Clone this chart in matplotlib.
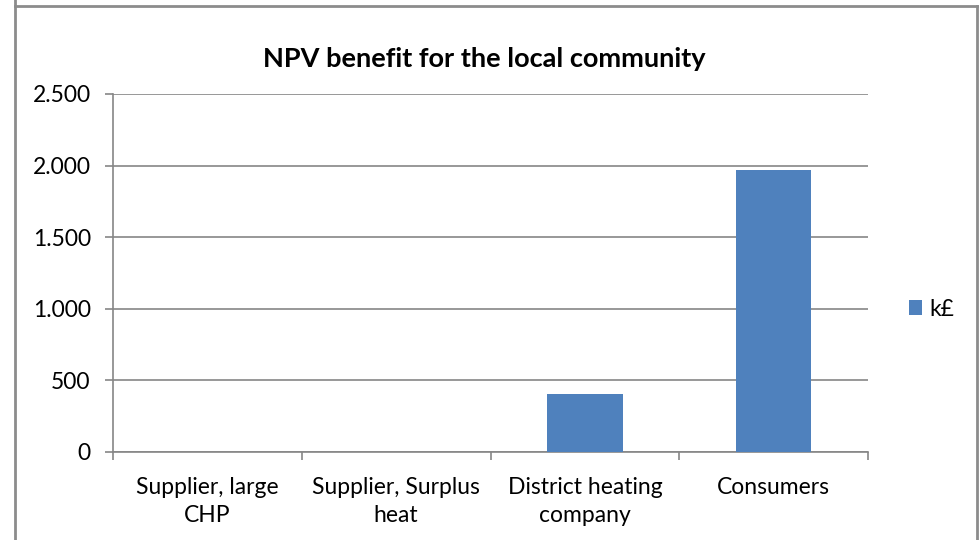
import matplotlib
matplotlib.use("Agg")
import matplotlib.pyplot as plt
from matplotlib.lines import Line2D
import numpy as np

categories = ["Supplier, large\nCHP", "Supplier, Surplus\nheat", "District heating\ncompany", "Consumers"]
values = [0, 0, 405, 1970]
series_name = "k£"
yticks = [0, 500, 1000, 1500, 2000, 2500]
ytick_labels = ["0", "500", "1.000", "1.500", "2.000", "2.500"]

plt.rcParams["font.family"] = ["Lato", "DejaVu Sans"]

bar_color = "#4f81bd"
grid_color = "#868686"
label_size = 16.5

fig = plt.figure(figsize=(9.8, 5.4), dpi=100)
ax = fig.add_axes([113 / 980, 1 - 452 / 540, (868 - 113) / 980, (452 - 94) / 540])

x = np.arange(len(categories))
ax.bar(x, values, width=0.4, color=bar_color, label=series_name, zorder=3)

ax.set_xlim(-0.5, len(categories) - 0.5)
ax.set_ylim(0, 2500)
ax.set_yticks(yticks)
ax.set_yticklabels(ytick_labels, fontsize=label_size)
ax.yaxis.grid(True, color=grid_color, linewidth=1.2, zorder=0)

# category labels at centres, tick marks at category boundaries
ax.set_xticks(x)
ax.set_xticklabels(categories, fontsize=label_size, linespacing=1.4)
ax.tick_params(axis="x", length=0, pad=18)
ax.set_xticks(np.arange(-0.5, len(categories)), minor=True)
ax.tick_params(axis="x", which="minor", length=6, width=1.2, color=grid_color)
ax.tick_params(axis="y", length=6, width=1.2, color=grid_color, pad=10)

for side in ["top", "right"]:
    ax.spines[side].set_visible(False)
for side in ["left", "bottom"]:
    ax.spines[side].set_color(grid_color)
    ax.spines[side].set_linewidth(1.2)

fig.text(484 / 980, 1 - 59 / 540, "NPV benefit for the local community",
         ha="center", va="center", fontsize=19.5, fontweight="bold")

fig.legend(loc="center left", bbox_to_anchor=(888 / 980, 1 - 309 / 540),
           frameon=False, fontsize=label_size, handlelength=0.6, handleheight=0.6,
           handletextpad=0.3)

# outer chart frame
frame_color = "#8c8c8c"
fig.add_artist(Line2D([15 / 980, 15 / 980], [0, 1], transform=fig.transFigure,
                      color=frame_color, linewidth=2))
fig.add_artist(Line2D([15 / 980, 977 / 980], [1 - 6 / 540, 1 - 6 / 540],
                      transform=fig.transFigure, color=frame_color, linewidth=2))
fig.add_artist(Line2D([977 / 980, 977 / 980], [0, 1 - 6 / 540],
                      transform=fig.transFigure, color=frame_color, linewidth=2))

fig.savefig("out.png", dpi=100)
